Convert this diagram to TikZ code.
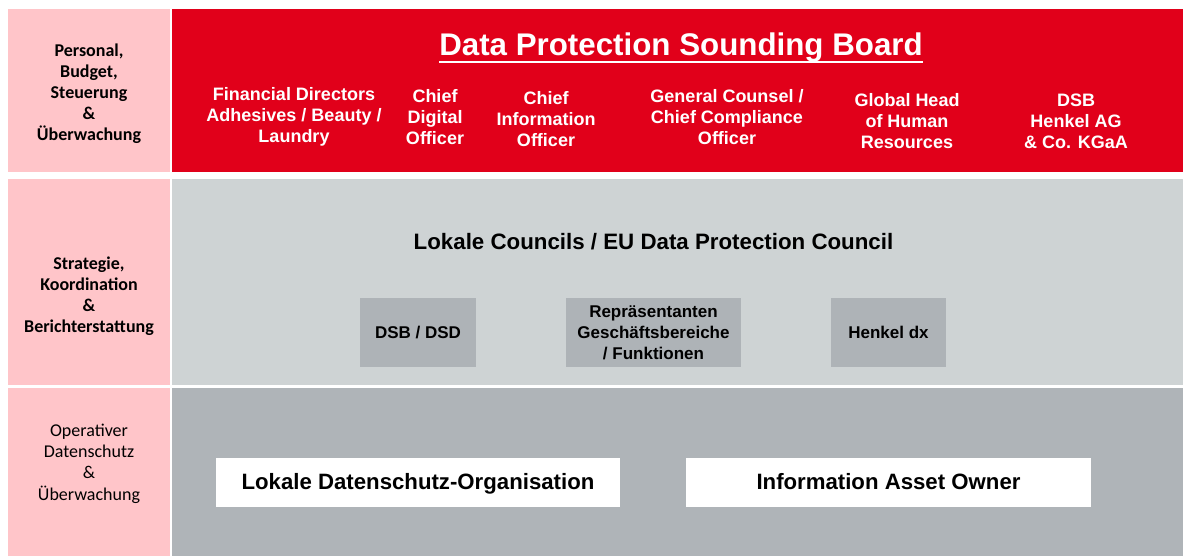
\documentclass[tikz,border=0pt]{standalone}
\usepackage{fontspec}
\setmainfont{Liberation Sans}
\newfontfamily\calibri{Carlito}
\usetikzlibrary{positioning}
\definecolor{hkred}{HTML}{E1001A}
\definecolor{hkpink}{HTML}{FFC5C9}
\definecolor{midgray}{HTML}{CED3D4}
\definecolor{boxgray}{HTML}{AEB3B7}
\definecolor{lowgray}{HTML}{AFB4B8}

\begin{document}
\begin{tikzpicture}[x=1pt, y=-1pt,
			bd/.style={inner sep=0pt, outer sep=0pt, anchor=north west},
			lb/.style={align=center, font=\calibri\bfseries\fontsize{18}{21}\selectfont},
			mb/.style={align=center, text=white, font=\bfseries\fontsize{18}{21}\selectfont},
			gb/.style={fill=boxgray, align=center, minimum height=69pt, inner sep=2pt,
				font=\bfseries\fontsize{17}{21}\selectfont},
			wb/.style={fill=white, minimum height=49pt, inner sep=0pt, text height=16pt,
				text depth=2pt, font=\bfseries\fontsize{22.2}{26}\selectfont}
			]
			\useasboundingbox (0,0) rectangle (1183,556);
			% bands
			\node[bd, fill=hkpink, minimum width=162pt, minimum height=163pt] (p1) at (8,9) {};
			\node[bd, fill=hkpink, minimum width=162pt, minimum height=206pt] (p2) at (8,179) {};
			\node[bd, fill=hkpink, minimum width=162pt, minimum height=168pt] (p3) at (8,388) {};
			\node[bd, fill=hkred, minimum width=1011pt, minimum height=163pt] (board) at (172,9) {};
			\node[bd, fill=midgray, minimum width=1011pt, minimum height=206pt] (council) at (172,179) {};
			\node[bd, fill=lowgray, minimum width=1011pt, minimum height=168pt] (ops) at (172,388) {};
			% left column
			\node[lb] (lp1) at (89,94) {Personal,\\ Budget,\\ Steuerung\\ \&\\ Überwachung};
			\node[lb] (lp2) at (89,296) {Strategie,\\ Koordination\\ \&\\ Berichterstattung};
			\node[lb, font=\calibri\fontsize{18}{21.3}\selectfont] (lp3) at (89,463.5)
			{Operativer\\ Datenschutz\\ \&\\ Überwachung};
			% sounding board
			\node[text=white, inner sep=0pt, anchor=base, font=\bfseries\fontsize{31.3}{36}\selectfont]
			(title) at (681,56) {Data Protection Sounding Board};
			\draw[white, line width=2.5pt] ([yshift=-6pt]title.base west) -- ([yshift=-6pt]title.base east);
			\node[mb] (fin)  at (294,117) {Financial Directors\\ Adhesives / Beauty /\\ Laundry};
			\node[mb] (cdo)  at (435,117) {Chief\\ Digital\\ Officer};
			\node[mb] (cio)  at (546,119) {Chief\\ Information\\ Officer};
			\node[mb] (gc)   at (727,117) {General Counsel /\\ Chief Compliance\\ Officer};
			\node[mb] (hr)   at (907,121) {Global Head\\ of Human\\ Resources};
			\node[mb] (dsbh) at (1076,121) {DSB\\ Henkel AG\\ \& Co. KGaA};
			% councils
			\node[font=\bfseries\fontsize{22.3}{26}\selectfont] (lc) at (653.5,242)
			{Lokale Councils / EU Data Protection Council};
			\node[gb, minimum width=116pt] (dsb) at (418,332.5) {DSB / DSD};
			\node[gb, minimum width=175pt] (rep) at (653.5,332.5)
			{Repräsentanten\\ Geschäftsbereiche\\ / Funktionen};
			\node[gb, minimum width=115pt] (dx)  at (888.5,332.5) {Henkel dx};
			% operational level
			\node[wb, minimum width=404pt] (lok) at (418,482.5) {Lokale Datenschutz-Organisation};
			\node[wb, minimum width=405pt] (iao) at (888.5,482.5) {Information Asset Owner};
	\end{tikzpicture}
\end{document}
